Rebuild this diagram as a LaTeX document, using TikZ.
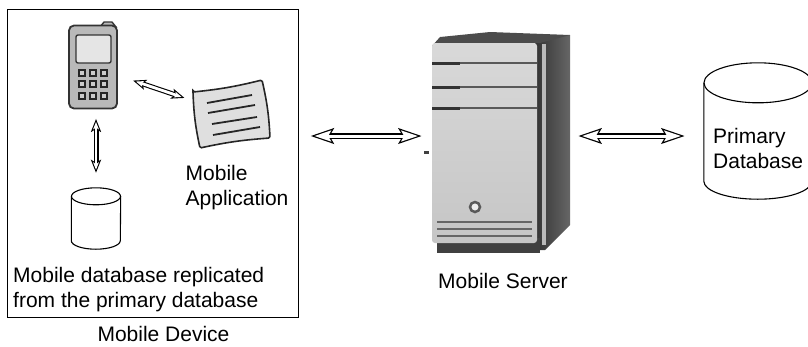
\documentclass[tikz,border=0pt]{standalone}
\usepackage{fontspec}
\setmainfont{Liberation Sans}
\usetikzlibrary{arrows.meta,positioning}

\tikzset{
  % hollow two-way arrows: a white core drawn over a black body
  link/.style={draw=white, line width=3pt,
    {Stealth[length=16.6pt, width=10.8pt, inset=2.9pt, sep=3.9pt]}-{Stealth[length=16.6pt, width=10.8pt, inset=2.9pt, sep=3.9pt]},
    preaction={draw=black, line width=5.4pt,
      {Stealth[length=23pt, width=15pt, inset=4pt]}-{Stealth[length=23pt, width=15pt, inset=4pt]}}},
  shortlink/.style={draw=white, line width=2.8pt,
    {Stealth[length=7.3pt, width=5.7pt, inset=1.7pt, sep=3.1pt]}-{Stealth[length=7.3pt, width=5.7pt, inset=1.7pt, sep=3.1pt]},
    preaction={draw=black, line width=5pt,
      {Stealth[length=13pt, width=10pt, inset=3pt]}-{Stealth[length=13pt, width=10pt, inset=3pt]}}},
  dbbox/.style={inner sep=0},
  dbline/.style={line width=1.1pt},
  lbl/.style={font=\fontsize{21}{25}\selectfont, align=left, inner sep=0pt},
}

\begin{document}
\begin{tikzpicture}[x=1pt, y=-1pt]
\useasboundingbox (0,0) rectangle (808,346);

% the device frame
\node[draw, line width=1pt, minimum width=291pt, minimum height=308pt, inner sep=0] (device) at (152.5,163) {};

% handset
\filldraw[fill=gray!55, draw=black!80, line width=1.4pt] (100,27) -- (104,22) -- (112,22) -- (116,27) -- cycle;
\node[draw=black!80, fill=gray!55, line width=1.8pt, rounded corners=5pt, minimum width=48pt, minimum height=83pt, inner sep=0] (phone) at (93,67) {};
\filldraw[fill=gray!20, draw=black!80, line width=1.4pt, rounded corners=2pt] (76,35) rectangle (111,63);
\foreach \bx in {82,93,104}
  \foreach \by in {73,84,96}
    \filldraw[fill=gray!40, draw=black!85, line width=1.6pt] (\bx-3,\by-3) rectangle (\bx+3,\by+3);

% application sheet
\node[minimum width=70pt, minimum height=55pt, inner sep=0] (app) at (232,114) {};
\filldraw[fill=gray!25, draw=black!85, line width=1.6pt, rounded corners=1.5pt]
  (193,92) to[bend right=4] (262,80) to[bend left=5] (270,138) to[bend right=4] (200,148) to[bend left=5] cycle;
\foreach \xa/\ya/\xb/\yb in {207/103/252/95, 208/113/255/105, 212/124/257/117, 213/135/260/127}
  \draw[black!85, line width=1.8pt] (\xa,\ya) -- (\xb,\yb);

% local database
\node[dbbox, minimum width=49pt, minimum height=61pt] (mdb) at (96,218.5) {};
\filldraw[dbline, fill=white] ([yshift=-8.5pt]mdb.north west) -- ([yshift=8.5pt]mdb.south west)
  arc[start angle=180, end angle=360, x radius=24.5pt, y radius=8.5pt] -- ([yshift=-8.5pt]mdb.north east);
\draw[dbline] ([yshift=-8.5pt]mdb.north) ellipse[x radius=24.5pt, y radius=8.5pt];

% tower
\node[minimum width=140pt, minimum height=200pt, inner sep=0] (server) at (501,136) {};
\shade[left color=black!80, right color=black!60] (535,43) -- (543,36) -- (570,35) -- (570,225) -- (545,250) -- (535,250) -- cycle;
\fill[gray!55] (542,44) rectangle (546,245);
\fill[black!70] (432,46) -- (440,37) -- (490,32) -- (570,35) -- (540,43) -- cycle;
\fill[black!75] (437,238) rectangle (540,253);
\shade[top color=gray!30, bottom color=gray!45, rounded corners=3pt] (432,43) rectangle (537,243);
\foreach \y in {63,87,108} {
  \draw[black!65, line width=2.5pt] (432,\y) -- (537,\y);
  \draw[black!80, line width=3pt] (432,\y) -- (460,\y);
}
\foreach \y in {222,229,236}
  \draw[black!60, line width=1.6pt] (437,\y) -- (532,\y);
\filldraw[fill=gray!15, draw=black!65, line width=2.5pt] (475,207) circle[radius=5];
\fill[black!75] (424,151) rectangle (429,154);

% main database
\node[dbbox, minimum width=108pt, minimum height=136pt] (pdb) at (758,131) {};
\filldraw[dbline, fill=white] ([yshift=-20pt]pdb.north west) -- ([yshift=18pt]pdb.south west)
  arc[start angle=180, end angle=360, x radius=54pt, y radius=18pt] -- ([yshift=-20pt]pdb.north east);
\draw[dbline] ([yshift=-20pt]pdb.north) ellipse[x radius=54pt, y radius=20pt];

% links
\draw[shortlink, shorten <=16pt, shorten >=13pt] (phone) -- (app);
\draw[shortlink, shorten <=9.5pt, shorten >=15pt] (mdb.north |- phone.south) -- (mdb.north);
\draw[link, shorten <=12pt, shorten >=9pt] (server.west -| device.east) -- (server.west);
\draw[link, shorten <=7pt, shorten >=19pt] (server.east) -- (server.east -| pdb.west);

% labels
\node[lbl, anchor=north west] (apptxt) at (185.5,165) {Mobile\\Application};
\node[lbl, anchor=north west] (mdbtxt) at (13,266.7) {Mobile database replicated\\from the primary database};
\node[lbl, anchor=north] (devtxt) at (163.5,326.5) {Mobile Device};
\node[lbl, anchor=north] (srvtxt) at (503,273) {Mobile Server};
\node[lbl, anchor=north west] (pdbtxt) at (713,127.7) {Primary\\Database};
\end{tikzpicture}
\end{document}
